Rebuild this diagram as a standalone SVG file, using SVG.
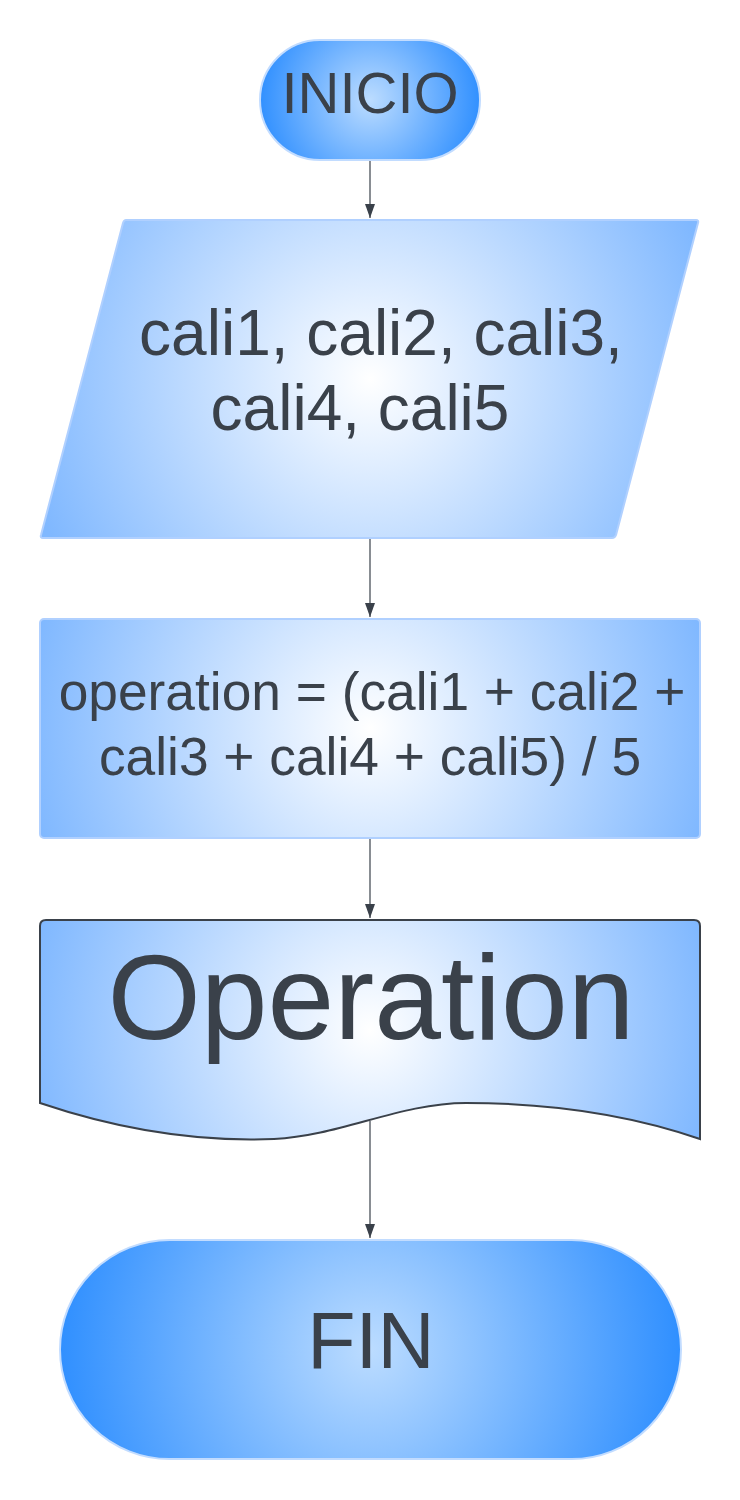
<svg xmlns="http://www.w3.org/2000/svg" width="740" height="1500" viewBox="0 0 740 1500">
  <defs>
    <radialGradient id="gInicio" gradientUnits="userSpaceOnUse" cx="370" cy="100" r="112">
      <stop offset="0" stop-color="#bcdcff"/>
      <stop offset="1" stop-color="#2f8fff"/>
    </radialGradient>
    <radialGradient id="gFin" gradientUnits="userSpaceOnUse" cx="370" cy="1350" r="312">
      <stop offset="0" stop-color="#bcdcff"/>
      <stop offset="1" stop-color="#2f8fff"/>
    </radialGradient>
    <radialGradient id="gInput" gradientUnits="userSpaceOnUse" cx="370" cy="379" r="355">
      <stop offset="0" stop-color="#ffffff"/>
      <stop offset="1" stop-color="#80b8ff"/>
    </radialGradient>
    <radialGradient id="gProc" gradientUnits="userSpaceOnUse" cx="370" cy="728" r="345">
      <stop offset="0" stop-color="#ffffff"/>
      <stop offset="1" stop-color="#80b8ff"/>
    </radialGradient>
    <radialGradient id="gDoc" gradientUnits="userSpaceOnUse" cx="370" cy="1030" r="345">
      <stop offset="0" stop-color="#ffffff"/>
      <stop offset="1" stop-color="#80b8ff"/>
    </radialGradient>
  </defs>
  <style>
    .t { font-family: "Liberation Sans", Arial, sans-serif; fill: #3a414a; text-anchor: middle; }
    .term { stroke: #c2dcff; stroke-width: 2; }
    .box { stroke: #b0d0ff; stroke-width: 2; }
    .doc { stroke: #3a414a; stroke-width: 2; }
    .conn { stroke: #3a414a; stroke-width: 1.2; fill: none; }
    .head { fill: #3a414a; }
  </style>
  <rect width="740" height="1500" fill="#ffffff"/>

  <g id="connectors">
    <line class="conn" x1="370" y1="160" x2="370" y2="218"/>
    <path class="head" d="M365,204 L375,204 L370,218 Z"/>
    <line class="conn" x1="370" y1="538" x2="370" y2="617"/>
    <path class="head" d="M365,603 L375,603 L370,617 Z"/>
    <line class="conn" x1="370" y1="838" x2="370" y2="918"/>
    <path class="head" d="M365,904 L375,904 L370,918 Z"/>
    <line class="conn" x1="370" y1="1121" x2="370" y2="1238"/>
    <path class="head" d="M365,1224 L375,1224 L370,1238 Z"/>
  </g>

  <g id="inicio">
    <rect class="term" fill="url(#gInicio)" x="260" y="40" width="220" height="120" rx="60" ry="60"/>
    <text class="t" x="370" y="113" font-size="58">INICIO</text>
  </g>

  <g id="input">
    <path class="box" fill="url(#gInput)" d="M126,220 L696,220 Q699,220 698,223 L616,535 Q615,538 612,538 L43,538 Q40,538 41,535 L123,223 Q124,220 126,220 Z"/>
    <text class="t" x="381" y="355" font-size="64">cali1, cali2, cali3,</text>
    <text class="t" x="360" y="430" font-size="64">cali4, cali5</text>
  </g>

  <g id="process">
    <rect class="box" fill="url(#gProc)" x="40" y="619" width="660" height="219" rx="4" ry="4"/>
    <text class="t" x="372" y="710" font-size="53.3">operation = (cali1 + cali2 +</text>
    <text class="t" x="370" y="775" font-size="53.3">cali3 + cali4 + cali5) / 5</text>
  </g>

  <g id="output">
    <path class="doc" fill="url(#gDoc)" d="M40,1103 C120,1130 200,1142 274,1139 C340,1136 400,1103 466,1103 C550,1103 630,1115 700,1139 L700,926 Q700,920 694,920 L46,920 Q40,920 40,926 Z"/>
    <text class="t" x="371" y="1039" font-size="120">Operation</text>
  </g>

  <g id="fin">
    <rect class="term" fill="url(#gFin)" x="60" y="1240" width="621" height="219" rx="109.5" ry="109.5"/>
    <text class="t" x="371" y="1368" font-size="79">FIN</text>
  </g>
</svg>
